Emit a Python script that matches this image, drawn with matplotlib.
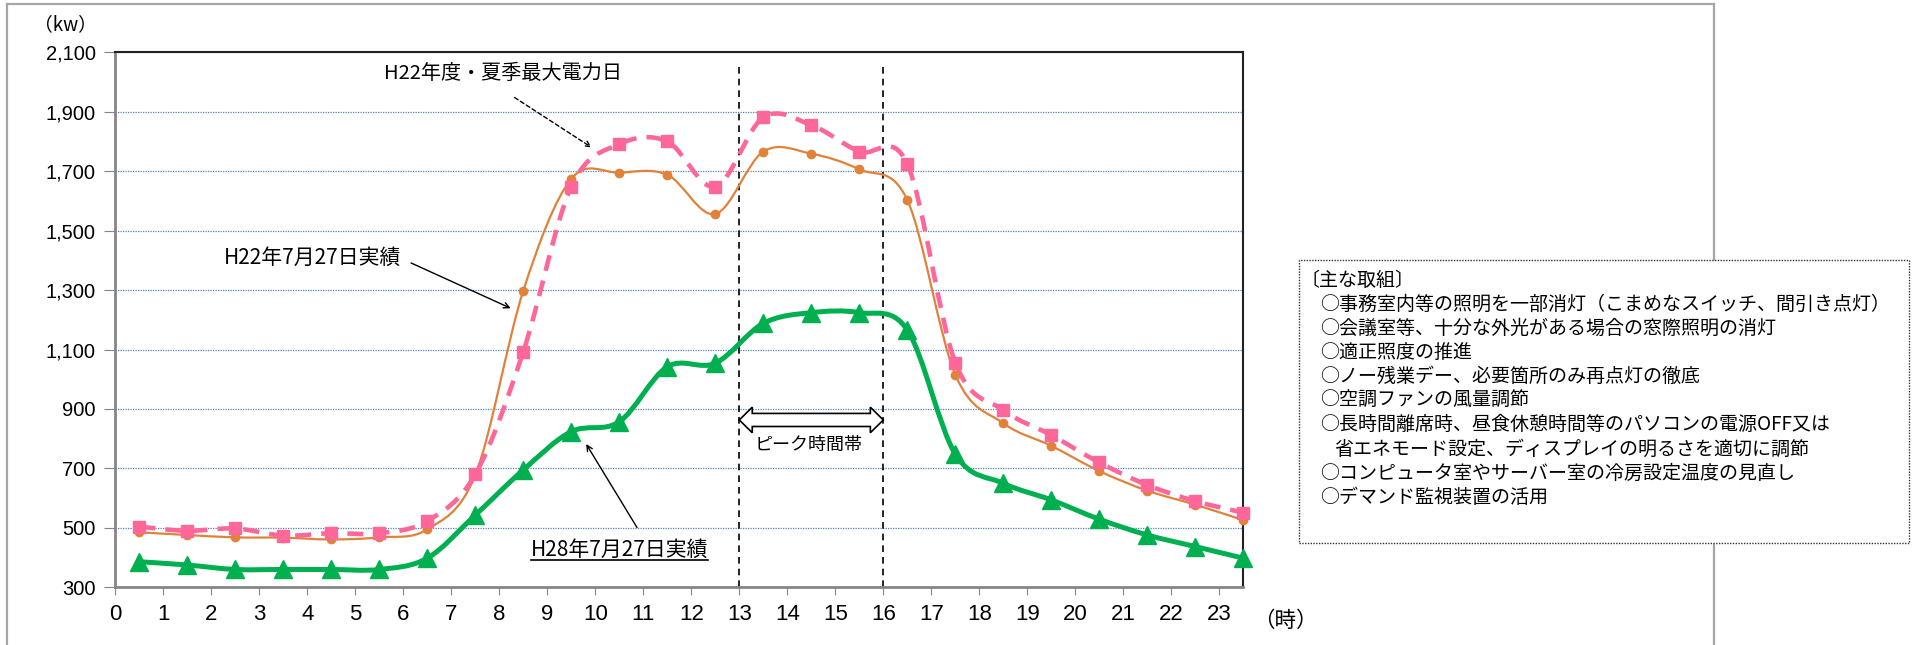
import numpy as np
import matplotlib.pyplot as plt
from matplotlib.path import Path
from matplotlib.patches import PathPatch, Rectangle, Polygon
from matplotlib.lines import Line2D
from matplotlib.ticker import FuncFormatter

plt.rcParams['font.family'] = ['Noto Sans CJK JP', 'DejaVu Sans']

# 時間帯別の電力 (kw)
hours = np.arange(24) + 0.5
h22_jul27 = [485, 476, 468, 467, 461, 468, 495, 678, 1298, 1674, 1695, 1688,
             1556, 1766, 1759, 1706, 1603, 1015, 852, 776, 691, 625, 578, 526]
h22_peak = [504, 490, 498, 474, 482, 482, 523, 680, 1093, 1648, 1791, 1800,
            1648, 1881, 1855, 1766, 1724, 1056, 896, 812, 720, 644, 590, 551]
h28_jul27 = [386, 375, 360, 360, 360, 360, 398, 543, 695, 824, 857, 1042,
             1054, 1188, 1224, 1224, 1166, 748, 650, 594, 529, 476, 437, 398]

peak_start, peak_end = 13, 16

measures = [
    "〔主な取組〕",
    "○事務室内等の照明を一部消灯（こまめなスイッチ、間引き点灯）",
    "○会議室等、十分な外光がある場合の窓際照明の消灯",
    "○適正照度の推進",
    "○ノー残業デー、必要箇所のみ再点灯の徹底",
    "○空調ファンの風量調節",
    "○長時間離席時、昼食休憩時間等のパソコンの電源OFF又は",
    "省エネモード設定、ディスプレイの明るさを適切に調節",
    "○コンピュータ室やサーバー室の冷房設定温度の見直し",
    "○デマンド監視装置の活用",
]

W, H = 1914, 645


def fx(px):
    return px / W


def fy(py):
    return 1 - py / H


def smooth_path(x, y):
    # ベジェ曲線でなめらかに結ぶ
    n = len(x)
    verts = [(x[0], y[0])]
    codes = [Path.MOVETO]
    for i in range(n - 1):
        xa, ya = (x[i - 1], y[i - 1]) if i > 0 else (x[i], y[i])
        xb, yb = (x[i + 2], y[i + 2]) if i + 2 < n else (x[i + 1], y[i + 1])
        c1 = (x[i] + (x[i + 1] - xa) / 6, y[i] + (y[i + 1] - ya) / 6)
        c2 = (x[i + 1] - (xb - x[i]) / 6, y[i + 1] - (yb - y[i]) / 6)
        verts += [c1, c2, (x[i + 1], y[i + 1])]
        codes += [Path.CURVE4] * 3
    return Path(verts, codes)


fig = plt.figure(figsize=(19.14, 6.45), dpi=100)
ax = fig.add_axes([fx(115.3), fy(587.3), fx(1243.3) - fx(115.3), fy(52.3) - fy(587.3)])

# 外枠
frame_kw = dict(color='#a6a6a6', lw=1.6, transform=fig.transFigure)
fig.add_artist(Line2D([fx(6.7), fx(1714)], [fy(3.5), fy(3.5)], **frame_kw))
fig.add_artist(Line2D([fx(6.7), fx(6.7)], [fy(3.5), 0], **frame_kw))
fig.add_artist(Line2D([fx(1714), fx(1714)], [fy(3.5), 0], **frame_kw))

orange = '#e0823a'
pink = '#ff6699'
green = '#00b050'

ax.add_patch(PathPatch(smooth_path(hours, h22_jul27), fill=False, ec=orange, lw=1.6, zorder=3))
ax.plot(hours, h22_jul27, 'o', color=orange, ms=6, zorder=4, clip_on=False)

ax.add_patch(PathPatch(smooth_path(hours, h22_peak), fill=False, ec=pink, lw=3.3,
                       linestyle=(0, (3.5, 2.2)), zorder=3))
ax.plot(hours, h22_peak, 's', color=pink, ms=8.5, zorder=4, clip_on=False)

ax.add_patch(PathPatch(smooth_path(hours, h28_jul27), fill=False, ec=green, lw=3.6, zorder=3))
ax.plot(hours, h28_jul27, '^', color=green, ms=13, zorder=4, clip_on=False)

ax.set_xlim(0, 23.5)
ax.set_ylim(300, 2100)
ax.set_xticks(range(24))
ax.set_yticks(range(300, 2101, 200))
ax.yaxis.set_major_formatter(FuncFormatter(lambda v, p: f'{int(v):,}'))
for lab in ax.get_xticklabels():
    lab.set_fontfamily('Liberation Sans')
    lab.set_fontsize(16)
for lab in ax.get_yticklabels():
    lab.set_fontfamily('Liberation Sans')
    lab.set_fontsize(14.5)
ax.tick_params(axis='x', length=6, color='#868686', pad=6)
ax.tick_params(axis='y', length=8, color='#868686', pad=6)

ax.grid(axis='y', linestyle=(0, (1, 1)), color='#4f81bd', lw=0.9)
ax.set_axisbelow(True)
for side in ['left', 'bottom']:
    ax.spines[side].set_color('#868686')
    ax.spines[side].set_linewidth(2)
for side in ['top', 'right']:
    ax.spines[side].set_color('#222222')
    ax.spines[side].set_linewidth(1.5)

# ピーク時間帯
ax.vlines([peak_start, peak_end], 300, 2068, colors='black', linestyles=(0, (4, 3)), lw=1.2, zorder=2)
c, bh, hh, hl = 863, 22, 43, 0.27
arrow = [(peak_start, c), (peak_start + hl, c + hh), (peak_start + hl, c + bh),
         (peak_end - hl, c + bh), (peak_end - hl, c + hh), (peak_end, c),
         (peak_end - hl, c - hh), (peak_end - hl, c - bh), (peak_start + hl, c - bh),
         (peak_start + hl, c - hh)]
ax.add_patch(Polygon(arrow, closed=True, fc='white', ec='black', lw=1.2, zorder=5))
ax.text(14.45, 779, 'ピーク時間帯', ha='center', va='center', fontsize=13)

# 系列の注記
ax.text(8.08, 2029, 'H22年度・夏季最大電力日', ha='center', va='center', fontsize=14.5)
ax.annotate('', xy=(9.97, 1775), xytext=(8.27, 1953),
            arrowprops=dict(arrowstyle='->', color='black', lw=1, linestyle=(0, (3, 2))))
ax.text(4.11, 1407, 'H22年7月27日実績', ha='center', va='center', fontsize=15)
ax.annotate('', xy=(8.29, 1235), xytext=(6.11, 1395),
            arrowprops=dict(arrowstyle='->', color='black', lw=1))
t28 = ax.text(10.5, 425, 'H28年7月27日実績', ha='center', va='center', fontsize=15)
ax.annotate('', xy=(9.78, 790), xytext=(10.9, 493),
            arrowprops=dict(arrowstyle='->', color='black', lw=1))

# 下線
fig.canvas.draw()
bb = t28.get_window_extent().transformed(fig.transFigure.inverted())
fig.add_artist(Line2D([bb.x0, bb.x1], [bb.y0 + 0.002, bb.y0 + 0.002], color='black', lw=1.2,
                      transform=fig.transFigure))

fig.text(fx(65), fy(25), '（kw）', ha='center', va='center', fontsize=13.5)
fig.text(fx(1285), fy(621), '（時）', ha='center', va='center', fontsize=15.5)

# 主な取組
fig.add_artist(Rectangle((fx(1298.7), fy(543)), fx(1908.6) - fx(1298.7), fy(260) - fy(543),
                         transform=fig.transFigure, fc='white', ec='#333333', lw=1,
                         linestyle=(0, (1, 1)), zorder=5))
for i, line in enumerate(measures):
    if i == 0:
        x0 = 1300.8
    elif line.startswith('○'):
        x0 = 1320
    else:
        x0 = 1334
    fig.text(fx(x0), fy(280 + 24.15 * i), line, ha='left', va='center', fontsize=13.7, zorder=6)

fig.savefig('out.png', dpi=100)
